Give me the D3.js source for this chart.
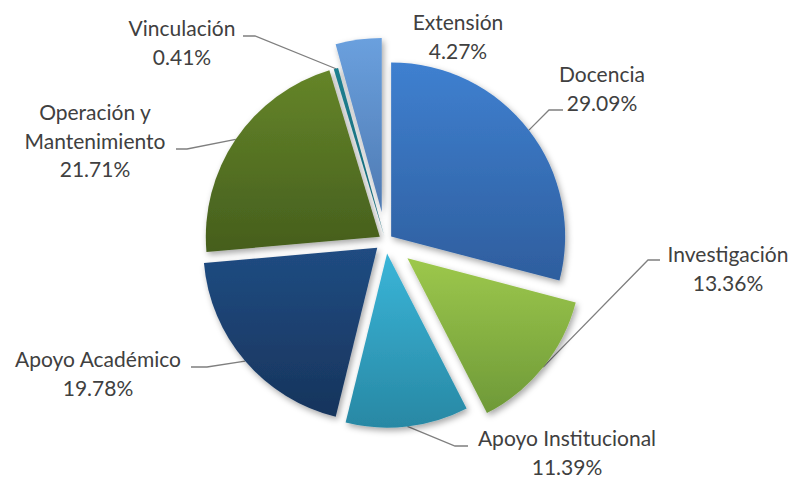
<!DOCTYPE html>
<html>
<head>
<meta charset="utf-8">
<script src="https://cdn.jsdelivr.net/npm/d3@7"></script>
<style>
  body { margin: 0; background: #fff; }
  text { font-family: Lato, "Open Sans", sans-serif; fill: #404040; }
</style>
</head>
<body>
<div class="chart"></div>
<script>
// data (clockwise from 12 o'clock)
var categories = ["Docencia", "Investigación", "Apoyo Institucional", "Apoyo Académico",
  "Operación y Mantenimiento", "Vinculación", "Extensión"];
var shares = [29.09, 13.36, 11.39, 19.78, 21.71, 0.41, 4.27];

// label text lines (wrapped like the original)
var labelLines = [["Docencia"], ["Investigación"], ["Apoyo Institucional"], ["Apoyo Académico"],
  ["Operación y", "Mantenimiento"], ["Vinculación"], ["Extensión"]];

// styling: gradient top / bottom colours per slice
var topColors = ["#3f80d0", "#9dc84c", "#3ab5d8", "#204c82", "#658529", "#1d7f90", "#6aa0de"];
var bottomColors = ["#2e5e9e", "#6e9938", "#2888a4", "#17345c", "#455e1d", "#166878", "#4f7ab2"];

// how far each slice is pulled out from the centre
var explode = [7, 28, 13, 11, 7, 5, 29];

// label layout: text centre x, first baseline y, leader start (lx, ly) and elbow x (hx)
var labelLayout = [
  { x: 602, y: 82, lx: 563, ly: 110, hx: 549 },
  { x: 728, y: 262, lx: 660, ly: 260, hx: 648 },
  { x: 567, y: 446, lx: 468, ly: 446, hx: 455 },
  { x: 98, y: 367, lx: 191, ly: 367, hx: 207 },
  { x: 95, y: 120, lx: 176, ly: 149, hx: 187 },
  { x: 182, y: 36, lx: 243, ly: 36, hx: 255 },
  { x: 458, y: 30, lx: null }
];

var svgWidth = 794;
var svgHeight = 479;
var cx = 385.6;
var cy = 240.7;
var radius = 174;
var lineGap = 28.6;

var svg = d3.select(".chart")
  .append("svg")
  .attr("width", svgWidth)
  .attr("height", svgHeight);

var defs = svg.append("defs");

// soft shadow under the slices
var shadow = defs.append("filter")
  .attr("id", "shadow")
  .attr("x", "-20%").attr("y", "-20%")
  .attr("width", "140%").attr("height", "140%");
shadow.append("feDropShadow")
  .attr("dx", 2).attr("dy", 3)
  .attr("stdDeviation", 3)
  .attr("flood-color", "#000")
  .attr("flood-opacity", 0.35);

categories.forEach(function(c, i) {
  var g = defs.append("linearGradient")
    .attr("id", "grad" + i)
    .attr("x1", 0).attr("y1", 0).attr("x2", 0).attr("y2", 1);
  g.append("stop").attr("offset", "0%").attr("stop-color", topColors[i]);
  g.append("stop").attr("offset", "100%").attr("stop-color", bottomColors[i]);
});

var pie = d3.pie()
  .sort(null)
  .value(function(d) { return d; });

var arcs = pie(shares);

var arc = d3.arc()
  .innerRadius(0)
  .outerRadius(radius);

// zero-width ring used to find the point on the rim at the mid angle
var rimArc = d3.arc()
  .innerRadius(radius)
  .outerRadius(radius);

function offset(d, i) {
  var mid = (d.startAngle + d.endAngle) / 2;
  return [cx + explode[i] * Math.sin(mid), cy - explode[i] * Math.cos(mid)];
}

var chartGroup = svg.append("g");

// leader lines
chartGroup.selectAll("polyline")
  .data(arcs.filter(function(d, i) { return labelLayout[i].lx !== null; }))
  .enter()
  .append("polyline")
  .attr("points", function(d) {
    var i = d.index;
    var o = offset(d, i);
    var rim = rimArc.centroid(d);
    var L = labelLayout[i];
    return [[L.lx, L.ly], [L.hx, L.ly], [o[0] + rim[0], o[1] + rim[1]]].join(" ");
  })
  .attr("fill", "none")
  .attr("stroke", "#7f7f7f")
  .attr("stroke-width", 1.3);

// slices
chartGroup.selectAll("path.slice")
  .data(arcs)
  .enter()
  .append("path")
  .attr("class", "slice")
  .attr("transform", function(d, i) {
    var o = offset(d, i);
    return "translate(" + o[0] + "," + o[1] + ")";
  })
  .attr("d", arc)
  .attr("fill", function(d, i) { return "url(#grad" + i + ")"; })
  .attr("filter", "url(#shadow)");

// labels
var labels = chartGroup.selectAll("text.label")
  .data(arcs)
  .enter()
  .append("text")
  .attr("class", "label")
  .attr("text-anchor", "middle")
  .attr("font-size", "21px");

labels.each(function(d, i) {
  var t = d3.select(this);
  var L = labelLayout[i];
  var lines = labelLines[i].concat([d3.format(".2f")(shares[i]) + "%"]);
  lines.forEach(function(s, k) {
    t.append("tspan")
      .attr("x", L.x)
      .attr("y", L.y + k * lineGap)
      .text(s);
  });
});
</script>
</body>
</html>
